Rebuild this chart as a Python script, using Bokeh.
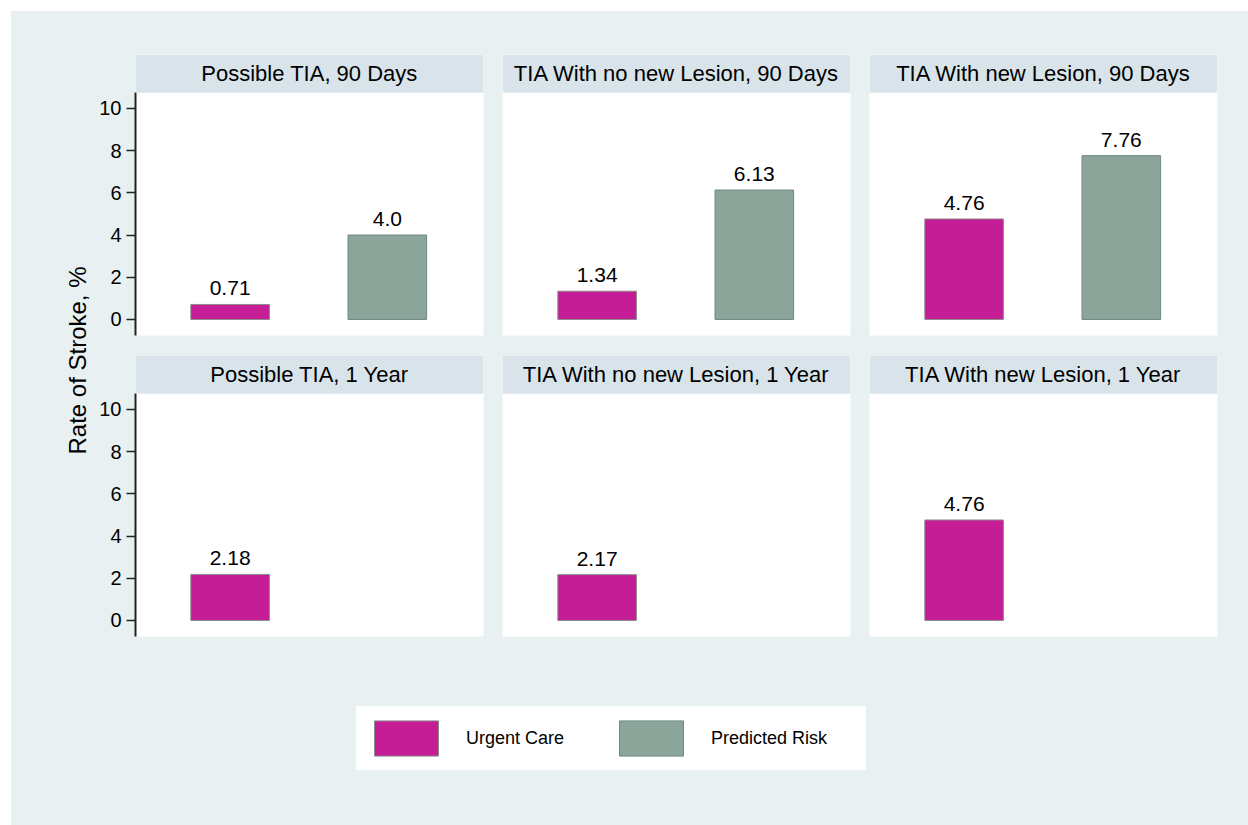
import math
from bokeh.plotting import figure
from bokeh.layouts import row, column
from bokeh.models import (Range1d, FixedTicker, BoxAnnotation, Label, Legend,
                          LegendItem, LinearAxis, ColumnDataSource)
from bokeh.core.properties import value
from bokeh.embed import file_html
from bokeh.resources import INLINE

# ---------------- data ----------------
panel_titles = [
    "Possible TIA, 90 Days",
    "TIA With no new Lesion, 90 Days",
    "TIA With new Lesion, 90 Days",
    "Possible TIA, 1 Year",
    "TIA With no new Lesion, 1 Year",
    "TIA With new Lesion, 1 Year",
]
groups = ["Urgent Care", "Predicted Risk"]
urgent_care = [0.71, 1.34, 4.76, 2.18, 2.17, 4.76]
predicted_risk = [4.0, 6.13, 7.76, None, None, None]
y_ticks = [0, 2, 4, 6, 8, 10]
y_label = "Rate of Stroke, %"

# ---------------- style ----------------
BG = "#E8F0F2"
HEADER = "#D8E4EA"
FILLS = ["#C51D96", "#8BA59B"]
LINES = ["#8C8C8C", "#6F8A80"]
FONT = "Liberation Sans"

Y_START, Y_END, HEADER_BOTTOM = -0.76, 12.55, 10.74
X_START, X_END = 0.398, 2.612
BAR_W = 0.5
BGSTYLE = {"background-color": BG}


def make_panel(i, width, left, right, height, top, bottom, with_axis):
    p = figure(width=width, height=height,
               x_range=Range1d(X_START, X_END), y_range=Range1d(Y_START, Y_END),
               output_backend="svg", toolbar_location=None,
               x_axis_type=None, y_axis_type=None,
               min_border_left=left, min_border_right=right,
               min_border_top=top, min_border_bottom=bottom,
               styles=BGSTYLE)
    p.background_fill_color = "white"
    p.border_fill_color = BG
    p.outline_line_color = None

    xs, tops, labels, fills, lines = [], [], [], [], []
    for k, series in enumerate([urgent_care, predicted_risk]):
        v = series[i]
        if v is None:
            continue
        xs.append(k + 1)
        tops.append(v)
        labels.append(str(v))
        fills.append(FILLS[k])
        lines.append(LINES[k])
    src = ColumnDataSource(dict(x=xs, top=tops, label=labels, fill=fills, line=lines))
    p.vbar(x="x", top="top", bottom=0, width=BAR_W, fill_color="fill",
           line_color="line", line_width=1, source=src)
    p.text(x="x", y="top", text="label", text_align="center",
           text_baseline="alphabetic", y_offset=-16,
           text_font=value(FONT), text_font_size="21px", text_color="black",
           source=src)

    p.add_layout(BoxAnnotation(bottom=HEADER_BOTTOM, fill_color=HEADER,
                               fill_alpha=1, line_alpha=0))
    p.add_layout(Label(x=(X_START + X_END) / 2, y=(HEADER_BOTTOM + Y_END) / 2,
                       text=panel_titles[i], text_align="center",
                       text_baseline="middle", text_font=FONT,
                       text_font_size="22px", text_color="black"))

    if with_axis:
        ax = LinearAxis(ticker=FixedTicker(ticks=y_ticks),
                        bounds=(Y_START, HEADER_BOTTOM),
                        axis_line_width=2, axis_line_color="#222222",
                        major_tick_out=9, major_tick_in=0,
                        major_tick_line_width=1.5, major_tick_line_color="#222222",
                        minor_tick_out=0, minor_tick_in=0,
                        major_label_standoff=5,
                        major_label_text_font=FONT,
                        major_label_text_font_size="20px",
                        major_label_text_color="black")
        p.add_layout(ax, "left")
    return p


col_specs = [(401, 44, 9), (367, 10, 9), (389, 10, 31)]
row_specs = [(334, 43, 10), (301, 10, 10)]

rows = []
for r, (h, t, b) in enumerate(row_specs):
    figs = []
    for c, (w, l, rr) in enumerate(col_specs):
        figs.append(make_panel(r * 3 + c, w, l, rr, h, t, b, c == 0))
    rows.append(row(*figs, styles=BGSTYLE))

# legend figure
lf = figure(width=1157, height=179, x_range=Range1d(0, 1), y_range=Range1d(0, 1),
            output_backend="svg", toolbar_location=None,
            x_axis_type=None, y_axis_type=None, min_border=0, styles=BGSTYLE)
lf.background_fill_color = BG
lf.border_fill_color = BG
lf.outline_line_color = None
rends = []
for k in range(2):
    empty = ColumnDataSource(dict(x=[math.nan], top=[math.nan]))
    rends.append(lf.vbar(x="x", top="top", width=BAR_W, fill_color=FILLS[k],
                         line_color=LINES[k], line_width=1, source=empty))
legend = Legend(items=[LegendItem(label=groups[k], renderers=[rends[k]]) for k in range(2)],
                location=(265, 55), orientation="horizontal",
                glyph_width=80, glyph_height=44, label_standoff=20,
                label_width=145, label_height=44, spacing=0, padding=10, margin=0,
                border_line_alpha=0, background_fill_color="white",
                background_fill_alpha=1, label_text_font=FONT,
                label_text_font_size="18px", label_text_color="black")
lf.add_layout(legend, "center")

# y-axis title figure
tf = figure(width=80, height=814, x_range=Range1d(0, 80), y_range=Range1d(0, 814),
            output_backend="svg", toolbar_location=None,
            x_axis_type=None, y_axis_type=None, min_border=0, styles=BGSTYLE)
tf.background_fill_color = BG
tf.border_fill_color = BG
tf.outline_line_color = None
tf.add_layout(Label(x=66, y=814 - (360 - 11), text=y_label, angle=math.pi / 2,
                    text_align="center", text_baseline="middle",
                    text_font=FONT, text_font_size="24px", text_color="black"))

root = row(tf, column(rows[0], rows[1], lf, styles=BGSTYLE), styles=BGSTYLE)
root.margin = (11, 0, 0, 11)

open("out.html", "w").write(file_html(root, INLINE))
